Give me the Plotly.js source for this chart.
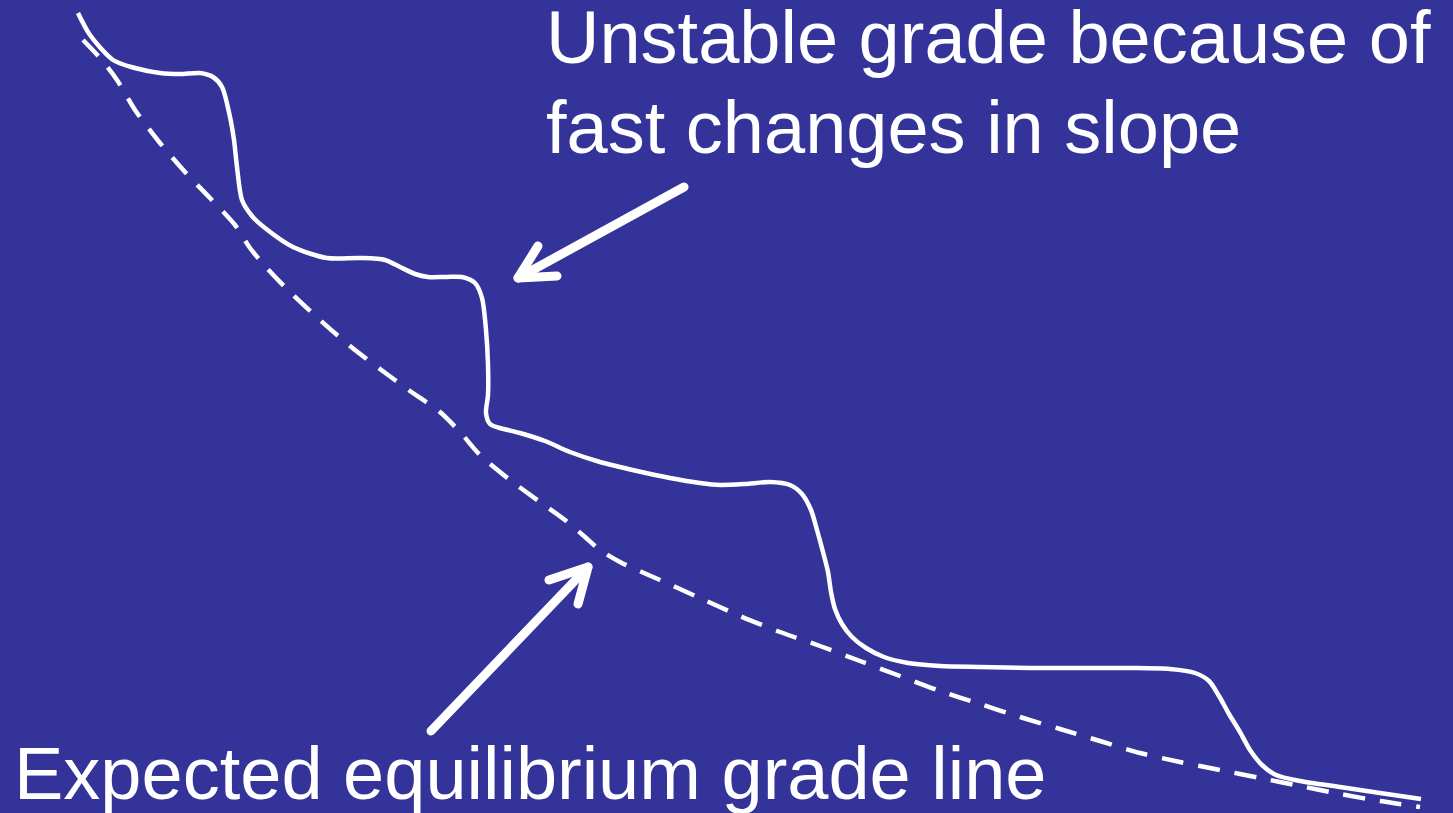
<!DOCTYPE html>
<html>
<head>
<meta charset="utf-8">
<script src="https://cdn.plot.ly/plotly-3.0.1.min.js"></script>
<style>
  html, body { margin: 0; padding: 0; background: #333399; }
  #chart { width: 1453px; height: 813px; }
  .scatterlayer .trace.arrowtrace path.js-line { stroke-linecap: round; stroke-linejoin: round; }
</style>
</head>
<body>
<div id="chart"></div>
<script>
const solidX = [78, 90, 113, 135, 160, 180, 200, 213, 222, 230, 234, 237, 242, 252, 265, 293, 327, 360, 385, 400, 415, 428, 445, 462, 475, 482, 486, 488, 488, 486, 490, 500, 520, 545, 570, 600, 637, 670, 700, 720, 745, 770, 790, 802, 811, 817, 823, 828, 831, 835, 842, 852, 866, 884, 908, 940, 980, 1030, 1080, 1130, 1170, 1195, 1209, 1219, 1229, 1240, 1250, 1262, 1276, 1300, 1340, 1380, 1421];
const solidY = [13, 35, 60, 68, 73, 74, 73, 77, 87, 117, 140, 167, 200, 216, 228, 247, 258, 258, 260, 267, 274, 277, 277, 277, 283, 298, 330, 365, 395, 413, 424, 428, 433, 441, 452, 462, 471, 478, 483, 485, 484, 482, 485, 494, 510, 530, 552, 572, 592, 609, 624, 637, 648, 657, 663, 666, 667, 668, 668, 668, 669, 673, 681, 696, 714, 732, 750, 765, 775, 781, 787, 793, 799];
// Expected equilibrium grade line
const dashX = [83, 100, 117, 135, 160, 185, 210, 235, 250, 265, 290, 320, 350, 380, 410, 440, 460, 480, 510, 540, 565, 585, 600, 620, 660, 700, 740, 780, 820, 860, 900, 940, 980, 1020, 1060, 1100, 1140, 1180, 1220, 1260, 1300, 1340, 1380, 1420];
const dashY = [40, 58, 80, 110, 143, 172, 198, 225, 248, 266, 292, 320, 346, 369, 391, 412, 432, 455, 480, 502, 520, 537, 550, 562, 580, 598, 616, 632, 646, 661, 676, 691, 704, 717, 729, 741, 753, 762, 770, 778, 786, 794, 801, 807];
// Arrow pointing at the unstable grade: tail, tip, barbs
const arrow1ShaftX = [684, 518];
const arrow1ShaftY = [187, 278];
const arrow1HeadX = [538, 518, 557];
const arrow1HeadY = [246, 278, 276];
// Arrow pointing at the equilibrium grade line
const arrow2ShaftX = [431, 588];
const arrow2ShaftY = [731, 567];
const arrow2HeadX = [549, 588, 578];
const arrow2HeadY = [580, 567, 604];
// Labels
const labelTop1 = "Unstable grade because of";
const labelTop2 = "fast changes in slope";
const labelBottom = "Expected equilibrium grade line";

const white = "#ffffff";
const bg = "#333399";

const traces = [
  {x: dashX, y: dashY, mode: "lines", line: {color: white, width: 4.5, dash: "22px,15px", shape: "spline", smoothing: 0.8}, hoverinfo: "skip"},
  {x: solidX, y: solidY, mode: "lines", line: {color: white, width: 4.5, shape: "spline", smoothing: 0.8}, hoverinfo: "skip"},
  {x: arrow1ShaftX, y: arrow1ShaftY, mode: "lines", line: {color: white, width: 9}, hoverinfo: "skip"},
  {x: arrow1HeadX, y: arrow1HeadY, mode: "lines", line: {color: white, width: 9}, hoverinfo: "skip"},
  {x: arrow2ShaftX, y: arrow2ShaftY, mode: "lines", line: {color: white, width: 9}, hoverinfo: "skip"},
  {x: arrow2HeadX, y: arrow2HeadY, mode: "lines", line: {color: white, width: 9}, hoverinfo: "skip"}
];

const font = {family: "Arial, 'Liberation Sans', sans-serif", size: 74, color: white};
const layout = {
  width: 1453, height: 813,
  margin: {l: 0, r: 0, t: 0, b: 0},
  paper_bgcolor: bg, plot_bgcolor: bg,
  showlegend: false,
  xaxis: {range: [0, 1453], visible: false, fixedrange: true},
  yaxis: {range: [813, 0], visible: false, fixedrange: true},
  annotations: [
    {text: labelTop1, x: 545, y: 37, xref: "x", yref: "y", xanchor: "left", yanchor: "middle", showarrow: false, font: font, borderpad: 0},
    {text: labelTop2, x: 545, y: 127, xref: "x", yref: "y", xanchor: "left", yanchor: "middle", showarrow: false, font: font, borderpad: 0},
    {text: labelBottom, x: 13, y: 773, xref: "x", yref: "y", xanchor: "left", yanchor: "middle", showarrow: false, font: font, borderpad: 0}
  ]
};

Plotly.newPlot("chart", traces, layout, {displayModeBar: false, staticPlot: true}).then(function () {
  const tr = document.querySelectorAll(".scatterlayer .trace");
  for (let i = 2; i < tr.length; i++) tr[i].classList.add("arrowtrace");
});
</script>
</body>
</html>
